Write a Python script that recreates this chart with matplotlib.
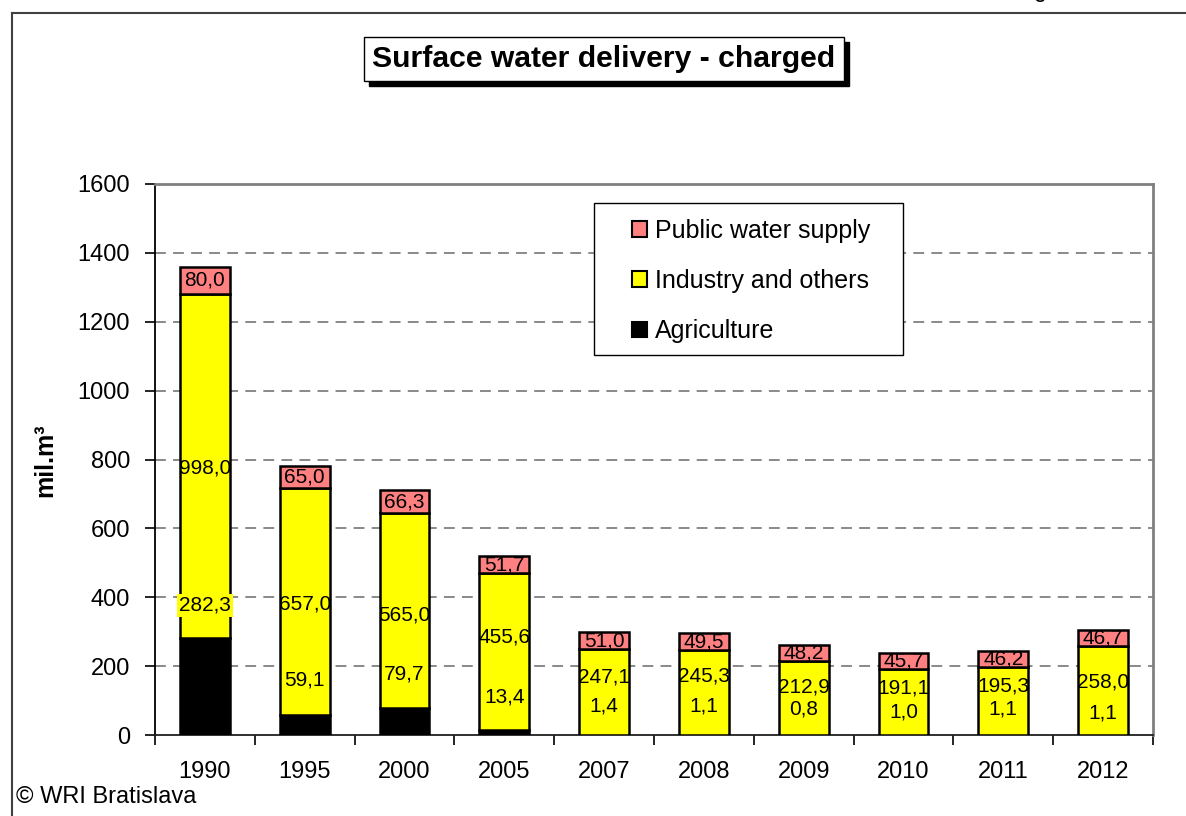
import matplotlib
matplotlib.use("Agg")
import matplotlib.pyplot as plt
from matplotlib.patches import Rectangle
import numpy as np

plt.rcParams['font.family'] = ['Liberation Sans', 'DejaVu Sans']

# ---------------- data ----------------
years = ['1990', '1995', '2000', '2005', '2007', '2008', '2009', '2010', '2011', '2012']
agriculture = [282.3, 59.1, 79.7, 13.4, 1.4, 1.1, 0.8, 1.0, 1.1, 1.1]
industry = [998.0, 657.0, 565.0, 455.6, 247.1, 245.3, 212.9, 191.1, 195.3, 258.0]
public = [80.0, 65.0, 66.3, 51.7, 51.0, 49.5, 48.2, 45.7, 46.2, 46.7]

# where the (hand-moved) value labels sit in the original chart
agri_label_y = [377, 160, 177, 110, 84, 84, 75, 67, 75, 64]
ind_label_y = [775, 380, 348, 285, 168, 171, 139, 136, 142, 154]

c_agri = '#000000'
c_ind = '#FFFF00'
c_pub = '#FF8080'

W, H = 1186, 816
fig = plt.figure(figsize=(W / 100, H / 100), dpi=100)
fig.patch.set_facecolor('white')

def px(x, y):
    # pixel (from top-left) -> figure fraction
    return x / W, 1 - y / H

# outer frame (only top and left visible)
fig.add_artist(plt.Line2D([12 / W, 1.0], [1 - 13 / H, 1 - 13 / H], color='#404040', lw=1.5))
fig.add_artist(plt.Line2D([12 / W, 12 / W], [0, 1 - 13 / H], color='#404040', lw=1.5))

ax = fig.add_axes([155 / W, 1 - 735 / H, (1153 - 155) / W, (735 - 184) / H])

x = np.arange(len(years))
agri = np.array(agriculture)
ind = np.array(industry)
pub = np.array(public)

bw = 0.5
ax.bar(x, agri, bw, color=c_agri, edgecolor='black', lw=1.8, zorder=3)
ax.bar(x, ind, bw, bottom=agri, color=c_ind, edgecolor='black', lw=1.8, zorder=3)
ax.bar(x, pub, bw, bottom=agri + ind, color=c_pub, edgecolor='black', lw=1.8, zorder=3)

fs_lab = 15
for i in range(len(years)):
    ax.text(x[i], agri_label_y[i], f'{agriculture[i]:.1f}'.replace('.', ','),
            ha='center', va='center', fontsize=fs_lab, zorder=5,
            bbox=dict(boxstyle='square,pad=0.1', fc=c_ind, ec='none'))
    ax.text(x[i], ind_label_y[i], f'{industry[i]:.1f}'.replace('.', ','),
            ha='center', va='center', fontsize=fs_lab, zorder=5)
    ax.text(x[i], agri[i] + ind[i] + pub[i] / 2, f'{public[i]:.1f}'.replace('.', ','),
            ha='center', va='center', fontsize=fs_lab, zorder=5)

ax.set_xlim(-0.5, len(years) - 0.5)
ax.set_ylim(0, 1600)
ax.set_yticks(np.arange(0, 1601, 200))
ax.tick_params(axis='y', direction='out', length=7, width=1.2, pad=11, labelsize=17, color='black')

ax.set_xticks(np.arange(-0.5, len(years), 1.0))
ax.set_xticklabels([])
ax.set_xticks(x, minor=True)
ax.set_xticklabels(years, minor=True)
ax.tick_params(axis='x', which='major', direction='out', length=7, width=1.2, color='black')
ax.tick_params(axis='x', which='minor', length=0, pad=19, labelsize=17)

for yv in range(200, 1600, 200):
    ax.axhline(yv, color='#808080', lw=1.3, ls=(0, (6, 4)), zorder=1)

ax.spines['left'].set_color('black')
ax.spines['left'].set_linewidth(1.3)
ax.spines['bottom'].set_color('#202020')
ax.spines['bottom'].set_linewidth(1.3)
ax.spines['top'].set_color('#808080')
ax.spines['top'].set_linewidth(2)
ax.spines['right'].set_color('#808080')
ax.spines['right'].set_linewidth(2)

# y label
fig.text(*px(45, 460), 'mil.m³', rotation=90, ha='center', va='center',
         fontsize=18, fontweight='bold')

# legend
lx0, ly0 = px(594, 355)
lx1, ly1 = px(903, 203)
fig.add_artist(Rectangle((lx0, ly0), lx1 - lx0, ly1 - ly0, transform=fig.transFigure,
                         fc='white', ec='black', lw=1, zorder=4))
handles = [Rectangle((0, 0), 1, 1, fc=c_pub, ec='black', lw=1.5),
           Rectangle((0, 0), 1, 1, fc=c_ind, ec='black', lw=1.5),
           Rectangle((0, 0), 1, 1, fc=c_agri, ec='black', lw=1.5)]
leg = fig.legend(handles, ['Public water supply', 'Industry and others', 'Agriculture'],
                 loc='center', bbox_to_anchor=px(751, 281), frameon=False,
                 fontsize=18, handlelength=0.6, handleheight=0.6, handletextpad=0.3,
                 labelspacing=1.05, borderpad=0)
leg.set_zorder(5)

# title with drop shadow
tx, ty = px(604, 59)
title = fig.text(tx, ty, 'Surface water delivery - charged', ha='center', va='center',
                 fontsize=21.7, fontweight='bold', color='black', zorder=6,
                 bbox=dict(boxstyle='square,pad=0.27', fc='white', ec='black', lw=1))
fig.canvas.draw()
bb = title.get_bbox_patch().get_window_extent()
fig.add_artist(Rectangle((bb.x0 + 5, bb.y0 - 5), bb.width, bb.height, transform=None,
                         fc='black', ec='black', zorder=5))

# copyright
fig.text(*px(16, 797), '© WRI Bratislava', ha='left', va='center', fontsize=17)

# descender of text cut off at the very top
fig.text(*px(1040, -3), 'g', ha='center', va='baseline', fontsize=16.5)

fig.savefig('out.png', dpi=100)
